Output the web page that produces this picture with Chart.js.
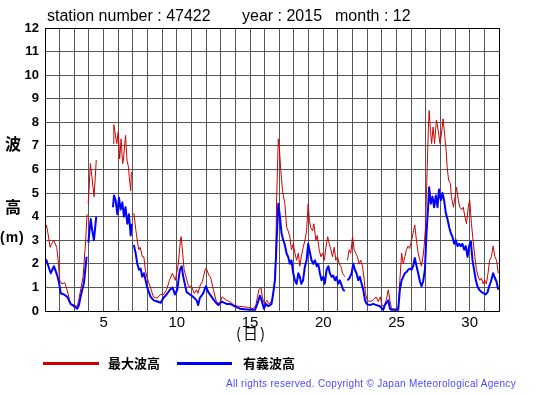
<!DOCTYPE html>
<html>
<head>
<meta charset="utf-8">
<script src="https://cdn.jsdelivr.net/npm/chart.js@4.4.0/dist/chart.umd.min.js"></script>
<style>
  html, body { margin: 0; padding: 0; background: #fff; }
  #wrap { position: relative; width: 555px; height: 395px; overflow: hidden; font-family: "Liberation Sans", Arial, sans-serif; }
  #wrap canvas { position: absolute; left: 0; top: 0; }
  .t { position: absolute; white-space: nowrap; line-height: 1; color: #000; }
  .title { font-size: 16px; top: 8px; }
  .jp { font-family: "Noto Sans CJK JP", sans-serif; }
  .leg { position: absolute; height: 3px; top: 362px; }
</style>
</head>
<body>
<div id="wrap">
  <canvas id="c" width="555" height="395"></canvas>
  <div class="t title" style="left:47px">station number : 47422</div>
  <div class="t title" style="left:242px">year : 2015</div>
  <div class="t title" style="left:335px">month : 12</div>
  <div class="t jp" style="left:5px;top:135px;font-size:16px;font-weight:bold">波</div>
  <div class="t jp" style="left:5px;top:198px;font-size:16px;font-weight:bold">高</div>
  <div class="t" style="left:0px;top:230px;font-size:14px;font-weight:bold;letter-spacing:1px">(m)</div>
  <div class="t jp" style="left:236px;top:325px;font-size:15px;letter-spacing:2px">(日)</div>
  <div class="leg" style="left:43px;width:56px;background:#cc0000"></div>
  <div class="t jp" style="left:108px;top:356px;font-size:13px;font-weight:bold">最大波高</div>
  <div class="leg" style="left:177px;width:55px;background:#0000ff"></div>
  <div class="t jp" style="left:243px;top:356px;font-size:13px;font-weight:bold">有義波高</div>
  <div class="t" style="left:226px;top:379px;font-size:10px;letter-spacing:0.3px;color:#4a4aff">All rights reserved. Copyright © Japan Meteorological Agency</div>
</div>
<script>
// ── Data: December 2015, station 47422 (day of month, wave height m) ─────────
// null marks a break in the record
const maxDay = [
  1.03,1.1,1.2,1.35,1.45,1.6,1.8,1.9,2.0,2.15,2.35,2.5,2.65,2.75,3.0,3.2,3.3,3.45,3.6,3.78,3.87,3.91,
  3.95,4.1,4.2,4.35,4.45,4.5,5.0,
  5.65,5.7,5.8,5.9,6.0,6.1,6.2,6.3,6.35,6.5,6.6,6.7,6.75,6.85,6.9,6.95,
  7.07,7.2,7.3,7.4,7.5,7.65,7.75,7.85,7.95,8.2,8.4,8.65,8.9,9.1,9.3,9.5,9.7,9.9,
  10.1,10.25,10.3,10.4,10.5,10.8,11.0,11.2,11.35,11.45,11.6,11.75,11.95,12.05,12.2,12.3,12.5,12.7,12.9,
  13.1,13.4,13.6,13.9,14.2,14.55,14.9,15.2,15.4,15.6,15.75,15.85,16.0,16.15,16.3,16.5,16.65,16.75,16.82,16.93,
  17.0,17.1,17.2,17.27,17.38,17.5,17.6,17.72,17.83,17.95,18.07,18.18,18.3,18.4,18.5,18.63,18.75,18.86,18.97,
  19.05,19.14,19.27,19.36,19.5,19.59,19.72,19.84,19.95,20.07,20.18,20.3,20.41,20.52,20.63,20.75,20.86,20.97,
  21.09,21.2,21.32,21.48,21.55,
  21.65,21.77,21.88,22.0,22.11,22.22,22.33,22.45,22.56,22.68,22.8,22.88,23.0,23.18,23.4,23.6,23.75,23.9,
  24.0,24.15,24.3,24.44,24.55,24.66,24.9,25.12,25.23,25.35,25.46,25.57,25.68,25.8,25.9,
  26.03,26.13,26.25,26.36,26.48,26.6,26.7,26.81,26.89,26.98,27.1,27.18,27.23,27.32,27.4,27.5,27.6,27.73,27.85,27.97,
  28.08,28.18,28.3,28.39,28.46,28.56,28.68,28.75,28.89,29.0,29.1,29.22,29.33,29.45,29.56,29.67,29.78,29.9,
  30.0,30.12,30.23,30.35,30.46,30.58,30.69,30.8,30.92,31.03,31.14,31.25,31.36,31.48,31.6,31.72,31.83,31.95
];
const maxWave = [
  3.5,3.65,3.3,2.7,2.85,3.0,2.7,2.15,1.3,1.15,1.2,0.9,0.55,0.3,0.25,0.2,0.45,0.95,1.45,3.0,4.1,null,
  4.55,6.25,5.7,4.85,5.85,6.4,null,
  7.1,7.9,7.5,7.1,7.6,6.45,7.3,6.25,6.4,7.45,6.4,6.1,5.7,5.1,5.9,null,
  4.15,3.45,3.0,2.6,2.7,2.3,2.3,1.75,1.45,1.0,0.6,0.55,0.7,0.7,0.9,1.3,1.6,1.3,
  2.0,3.0,3.15,2.45,1.75,1.05,1.05,0.75,0.9,0.75,1.1,1.25,1.8,1.75,1.5,1.45,0.9,0.4,0.3,
  0.6,0.45,0.4,0.25,0.2,0.18,0.15,0.1,0.25,0.9,1.0,0.55,0.3,0.45,0.3,0.45,1.0,2.15,4.8,7.3,
  6.95,5.95,5.25,4.9,4.55,3.55,3.4,3.15,2.6,2.85,2.45,2.15,2.45,1.9,2.3,2.7,3.0,3.4,4.55,
  3.85,3.55,3.4,3.7,3.0,3.2,2.6,2.3,2.45,2.15,2.7,3.15,2.85,2.6,2.3,2.7,2.15,2.3,
  2.0,1.9,1.6,1.45,null,
  2.15,2.6,2.45,3.15,2.6,2.45,2.3,2.0,2.15,1.9,1.3,0.75,0.45,0.4,0.45,0.6,0.4,0.6,
  0.25,0.2,0.45,0.9,0.45,0.1,0.07,0.2,1.3,2.45,2.0,2.3,2.6,2.75,2.65,
  3.0,3.3,3.65,3.0,2.45,2.15,1.9,2.3,2.75,3.55,6.1,7.8,8.5,7.65,7.1,7.8,7.1,8.1,7.65,7.1,
  7.55,8.15,7.4,6.8,6.1,5.55,5.4,4.85,4.4,4.85,5.25,4.7,4.4,4.3,4.4,4.0,3.7,4.4,
  4.7,3.7,3.0,2.3,1.75,1.45,1.3,1.4,1.15,1.3,1.15,1.6,2.15,2.3,2.75,2.3,2.15,1.6
];
const sigDay = [
  1.0,1.1,1.39,1.5,1.61,1.84,1.96,2.07,2.3,2.52,2.75,2.98,3.2,3.32,3.43,3.66,3.84,3.9,
  3.96,4.12,4.23,4.34,4.5,5.0,
  5.64,5.71,5.82,5.94,6.05,6.16,6.28,6.39,6.5,6.62,6.73,6.85,6.92,6.97,
  7.07,7.19,7.3,7.42,7.53,7.64,7.76,7.87,7.98,8.21,8.43,8.67,8.9,
  9.08,9.3,9.53,9.71,9.87,10.03,10.21,10.33,10.44,10.67,10.9,11.12,11.35,11.46,11.57,11.8,11.99,
  12.15,12.38,12.61,12.83,13.06,13.4,13.63,13.97,14.31,14.65,15.0,15.34,15.5,15.68,15.79,15.95,
  16.09,16.25,16.47,16.58,16.7,16.8,16.93,17.04,17.15,17.27,17.38,17.49,17.6,17.72,17.83,17.95,
  18.06,18.18,18.3,18.4,18.5,18.62,18.75,18.86,18.97,19.1,19.2,19.32,19.43,19.55,19.66,19.77,19.88,
  20.0,20.1,20.23,20.35,20.45,20.57,20.68,20.8,20.9,21.02,21.13,21.25,21.36,21.47,21.55,
  21.65,21.8,21.93,22.05,22.16,22.27,22.39,22.5,22.62,22.73,22.85,22.96,23.18,23.41,23.64,23.87,
  24.1,24.2,24.44,24.55,24.66,24.9,25.12,25.23,25.35,25.46,25.57,25.68,25.8,25.92,
  26.03,26.14,26.25,26.37,26.48,26.6,26.71,26.82,26.94,27.05,27.16,27.23,27.34,27.46,27.57,27.69,27.8,27.9,
  28.03,28.14,28.25,28.37,28.48,28.6,28.71,28.82,28.94,29.05,29.17,29.28,29.39,29.5,29.62,29.73,29.85,29.96,
  30.08,30.19,30.3,30.42,30.53,30.65,30.81,30.97,31.1,31.22,31.33,31.45,31.6,31.72,31.83,31.95
];
const sigWave = [
  2.2,2.15,1.6,1.75,1.9,1.5,1.2,0.75,0.7,0.6,0.3,0.2,0.1,0.25,0.6,1.2,2.3,null,
  2.9,3.9,3.4,3.0,4.0,null,
  4.4,4.9,4.7,4.1,4.8,4.3,4.6,4.0,4.4,3.7,4.1,3.2,3.7,null,
  2.8,2.45,2.0,1.75,1.8,1.45,1.6,1.3,1.0,0.6,0.45,0.4,0.35,
  0.55,0.7,0.9,1.0,0.7,0.9,1.75,1.9,1.45,0.8,0.7,0.6,0.45,0.25,0.55,0.75,1.05,
  0.8,0.6,0.4,0.25,0.4,0.3,0.3,0.2,0.1,0.07,0.05,0.05,0.3,0.65,0.45,0.1,
  0.3,0.2,0.3,0.75,1.3,2.7,4.55,4.0,3.3,3.0,2.8,2.45,2.3,2.0,2.15,1.6,
  1.3,1.15,1.6,1.45,1.15,1.3,1.9,2.15,2.85,2.45,2.15,2.0,2.15,1.9,2.0,1.6,1.3,
  1.45,1.15,1.75,1.9,1.6,1.45,1.5,1.3,1.45,1.15,1.3,1.1,0.9,0.85,null,
  1.3,1.4,1.6,2.0,1.75,1.6,1.3,1.45,1.15,0.9,0.45,0.3,0.25,0.3,0.25,0.2,
  0.05,0.25,0.45,0.1,0.05,0.05,0.05,0.9,1.3,1.45,1.6,1.65,1.75,1.8,
  1.75,1.9,2.25,1.9,1.6,1.25,1.05,1.25,1.75,3.3,4.4,5.25,4.55,4.85,4.4,4.9,4.4,5.15,
  4.7,5.0,4.7,4.15,3.9,3.55,3.3,3.15,2.85,3.0,2.75,2.85,2.75,2.85,2.6,2.75,2.3,2.75,
  2.95,2.15,1.75,1.3,1.05,0.9,0.8,0.75,0.7,0.8,1.05,1.25,1.6,1.4,1.25,0.9
];
const dayTicks = [5, 10, 15, 20, 25, 30];

const toPoints = (xs, ys) => xs.map((x, i) => ({ x, y: ys[i] }));

new Chart(document.getElementById('c'), {
  type: 'line',
  data: {
    datasets: [
      { label: '有義波高', data: toPoints(sigDay, sigWave), borderColor: '#0000ff', borderWidth: 2, order: 1 },
      { label: '最大波高', data: toPoints(maxDay, maxWave), borderColor: '#cc0000', borderWidth: 1, order: 2 }
    ]
  },
  options: {
    responsive: false,
    animation: false,
    devicePixelRatio: 1,
    spanGaps: false,
    elements: { point: { radius: 0 }, line: { tension: 0, borderJoinStyle: 'round' } },
    layout: { padding: { top: 28, right: 56, bottom: 60, left: 0 } },
    plugins: { legend: { display: false }, tooltip: { enabled: false } },
    scales: {
      x: {
        type: 'linear', min: 1, max: 32,
        afterFit: s => { s.height = 24; },
        grid: { color: '#555', lineWidth: 1, drawTicks: false },
        border: { color: '#000', width: 1 },
        ticks: {
          stepSize: 1, autoSkip: false, maxRotation: 0, padding: 3, color: '#000',
          font: { family: 'Liberation Sans', size: 15 },
          callback: v => dayTicks.includes(v) ? String(v) : ''
        }
      },
      y: {
        min: 0, max: 12,
        afterFit: s => { s.width = 45; },
        grid: { color: '#555', lineWidth: 1, drawTicks: false },
        border: { color: '#000', width: 1 },
        ticks: {
          stepSize: 1, padding: 6, color: '#000',
          font: { family: 'Liberation Sans', size: 13, weight: 'bold' }
        }
      }
    }
  },
  plugins: [{
    id: 'frame',
    afterDraw(chart) {
      const { ctx, chartArea: a } = chart;
      ctx.save();
      ctx.strokeStyle = '#000';
      ctx.lineWidth = 1;
      ctx.strokeRect(Math.round(a.left) + 0.5, Math.round(a.top) + 0.5, Math.round(a.right - a.left), Math.round(a.bottom - a.top));
      ctx.restore();
    }
  }]
});
</script>
</body>
</html>
